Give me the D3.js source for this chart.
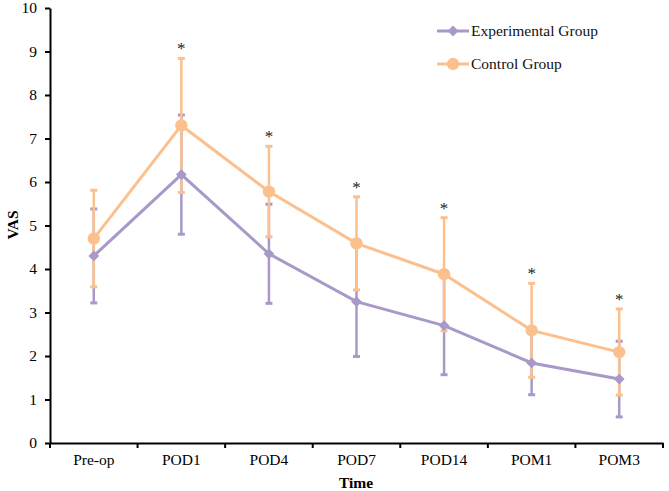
<!DOCTYPE html>
<html>
<head>
<meta charset="utf-8">
<script src="https://cdn.jsdelivr.net/npm/d3@7"></script>
<style>
  body { margin: 0; background: #fff; }
  text { font-family: "Liberation Serif", "Times New Roman", serif; }
</style>
</head>
<body>
<svg id="chart" width="669" height="491"></svg>
<script>
const categories = ["Pre-op", "POD1", "POD4", "POD7", "POD14", "POM1", "POM3"];
const expMean = [4.3, 6.17, 4.35, 3.25, 2.7, 1.84, 1.47];
const expSD   = [1.08, 1.37, 1.14, 1.26, 1.13, 0.73, 0.87];
const ctlMean = [4.7, 7.3, 5.78, 4.59, 3.88, 2.59, 2.09];
const ctlSD   = [1.11, 1.54, 1.04, 1.07, 1.3, 1.08, 0.99];
const starred = [false, true, true, true, true, true, true];
const yTicks = [0, 1, 2, 3, 4, 5, 6, 7, 8, 9, 10];

const purple = "#a899c9", orange = "#fbc08e";
const svg = d3.select("#chart");

const x = d3.scaleBand().domain(categories).range([50, 663]);
const y = d3.scaleLinear().domain([0, 10]).range([443, 8]);
const cx = d => x(d) + x.bandwidth() / 2;

// axes
const yAxis = svg.append("g").attr("transform", "translate(50,0)")
  .call(d3.axisLeft(y).tickValues(yTicks).tickSize(5).tickSizeOuter(0));
yAxis.select(".domain").attr("stroke-width", 2);
yAxis.selectAll("line").attr("stroke-width", 2);
yAxis.selectAll("text").attr("font-size", 15.5).attr("fill", "#000").attr("x", -13);

const xAxis = svg.append("g").attr("transform", "translate(0,443)")
  .call(d3.axisBottom(x).tickSize(0).tickSizeOuter(0));
xAxis.select(".domain").attr("stroke-width", 2);
xAxis.selectAll("text").attr("font-size", 15.5).attr("fill", "#000").attr("dy", "1.2em");
// boundary ticks
const bounds = categories.map(c => x(c) + x.bandwidth()).concat([x(categories[0])]);
xAxis.selectAll(".btick").data(bounds).enter().append("line")
  .attr("x1", d => d).attr("x2", d => d).attr("y1", 0).attr("y2", 5)
  .attr("stroke", "#000").attr("stroke-width", 2);

// titles
svg.append("text").attr("transform", "translate(18,225) rotate(-90)")
  .attr("text-anchor", "middle").attr("font-size", 15.5).attr("font-weight", "bold").text("VAS");
svg.append("text").attr("x", 356).attr("y", 488)
  .attr("text-anchor", "middle").attr("font-size", 15.5).attr("font-weight", "bold").text("Time");

const series = [
  { name: "Experimental Group", mean: expMean, sd: expSD, color: purple, shape: d3.symbolSquare, size: 58, rot: 45 },
  { name: "Control Group", mean: ctlMean, sd: ctlSD, color: orange, shape: d3.symbolCircle, size: 120, rot: 0 }
];

// error bars
series.forEach(s => {
  const g = svg.append("g").attr("stroke", s.color).attr("stroke-width", 2.5);
  categories.forEach((c, i) => {
    const lo = y(s.mean[i] - s.sd[i]), hi = y(s.mean[i] + s.sd[i]);
    g.append("line").attr("x1", cx(c)).attr("x2", cx(c)).attr("y1", lo).attr("y2", hi);
    [lo, hi].forEach(v => g.append("line").attr("x1", cx(c) - 3.5).attr("x2", cx(c) + 3.5)
      .attr("y1", v).attr("y2", v).attr("stroke-width", 3));
  });
});

// lines
const line = d3.line().x((d, i) => cx(categories[i])).y(d => y(d));
series.forEach(s => {
  svg.append("path").datum(s.mean).attr("d", line)
    .attr("fill", "none").attr("stroke", s.color).attr("stroke-width", 3);
});

// markers
series.forEach(s => {
  svg.append("g").selectAll("path").data(s.mean).enter().append("path")
    .attr("d", d3.symbol().type(s.shape).size(s.size))
    .attr("transform", (d, i) => `translate(${cx(categories[i])},${y(d)}) rotate(${s.rot})`)
    .attr("fill", s.color);
});

// significance asterisks
svg.append("g").selectAll("text").data(categories.filter((c, i) => starred[i])).enter()
  .append("text")
  .attr("x", d => cx(d))
  .attr("y", d => { const i = categories.indexOf(d); return y(ctlMean[i] + ctlSD[i]) - 4; })
  .attr("text-anchor", "middle").attr("font-size", 17).attr("fill", "#222").text("*");

// legend
const legend = svg.append("g");
series.forEach((s, i) => {
  const ly = 31 + i * 33;
  legend.append("line").attr("x1", 437).attr("x2", 469).attr("y1", ly).attr("y2", ly)
    .attr("stroke", s.color).attr("stroke-width", 3);
  legend.append("path").attr("d", d3.symbol().type(s.shape).size(s.size))
    .attr("transform", `translate(453,${ly}) rotate(${s.rot})`).attr("fill", s.color);
  legend.append("text").attr("x", 471).attr("y", ly + 5).attr("font-size", 15.5)
    .attr("fill", "#111").text(s.name);
});
</script>
</body>
</html>
